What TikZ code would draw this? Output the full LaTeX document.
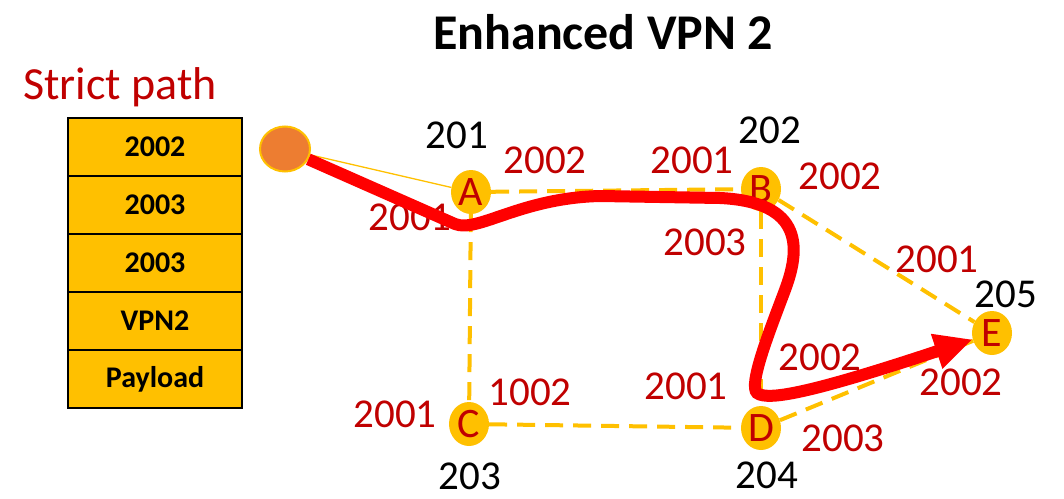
\documentclass[tikz,border=0pt]{standalone}
\usepackage{fontspec}
\setmainfont{Carlito}
\usetikzlibrary{arrows.meta, positioning, shapes.geometric, backgrounds}
\definecolor{cgold}{HTML}{FFC000}
\definecolor{corange}{HTML}{ED7D31}
\definecolor{cdred}{HTML}{C00000}
\definecolor{cred}{HTML}{FF0000}
\tikzset{
  every picture/.style={x=1pt, y=-1pt},
  hdr/.style={draw=black, fill=cgold, line width=2.5pt, minimum width=174pt, minimum height=58pt, outer sep=0pt, font=\fontsize{30}{36}\selectfont\bfseries},
  router/.style={ellipse, fill=cgold, minimum width=40pt, minimum height=44pt, inner sep=0pt, text=cdred, font=\fontsize{42}{48}\selectfont},
  srcnode/.style={ellipse, fill=corange, draw=cgold, line width=2pt, minimum width=50pt, minimum height=45pt},
  addr/.style={font=\fontsize{41}{48}\selectfont},
  sid/.style={text=cdred, font=\fontsize{41}{48}\selectfont},
  link/.style={draw=cgold, line width=4pt, dash pattern=on 18pt off 10pt},
  feed/.style={draw=cgold, line width=1.3pt},
  route/.style={draw=cred, line width=12pt, -{Triangle[length=38pt, width=34pt]}},
}

\begin{document}
\begin{tikzpicture}
  \useasboundingbox (0,0) rectangle (1064,498);
  \node[font=\fontsize{50}{60}\selectfont\bfseries] (title) at (603,32) {Enhanced VPN 2};
  \node[text=cdred, font=\fontsize{46}{54}\selectfont] (strict) at (120,87) {Strict path};
  % label stack
  \node[hdr] (h1) at (155,147) {2002};
  \node[hdr, below=0pt of h1] (h2) {2003};
  \node[hdr, below=0pt of h2] (h3) {2003};
  \node[hdr, below=0pt of h3] (h4) {VPN2};
  \node[hdr, below=0pt of h4] (h5) {Payload};
  % routers
  \node[srcnode] (src) at (285,149) {};
  \node[router] (A) at (471,192) {A};
  \node[router] (B) at (761,189) {B};
  \node[router] (C) at (469,424) {C};
  \node[router] (D) at (761,428) {D};
  \node[router] (E) at (992,333) {E};
  % node addresses
  \node[addr] (aA) at (457,135) {201};
  \node[addr] (aB) at (770,130) {202};
  \node[addr] (aC) at (470,476) {203};
  \node[addr] (aD) at (767,475) {204};
  \node[addr] (aE) at (1006,294) {205};
  % adjacency SIDs
  \node[sid] at (545,160) {2002};
  \node[sid] at (410,217) {2001};
  \node[sid] at (692,160) {2001};
  \node[sid] at (840,176) {2002};
  \node[sid] at (705,242) {2003};
  \node[sid] at (937,259) {2001};
  \node[sid] at (820,357) {2002};
  \node[sid] at (961,382) {2002};
  \node[sid] at (843,438) {2003};
  \node[sid] at (686,386) {2001};
  \node[sid] at (530,392) {1002};
  \node[sid] at (395,414) {2001};
  \begin{scope}[on background layer]
    \draw[link] (A) -- (B);
    \draw[link] (A) -- (C);
    \draw[link] (B) -- (D);
    \draw[link] (C) -- (D);
    \draw[link] (B) -- (E);
    \draw[link] (D) -- (E);
  \end{scope}
  \draw[feed] (src) -- (A);
  % strict path
  \draw[route] (src) -- (455,224) .. controls (478,233) and (520,198) .. (600,196)
    -- (720,198) .. controls (805,202) and (800,250) .. (785,290)
    .. controls (770,330) and (748,385) .. (757,393)
    .. controls (768,402) and (820,390) .. (E);
\end{tikzpicture}
\end{document}
